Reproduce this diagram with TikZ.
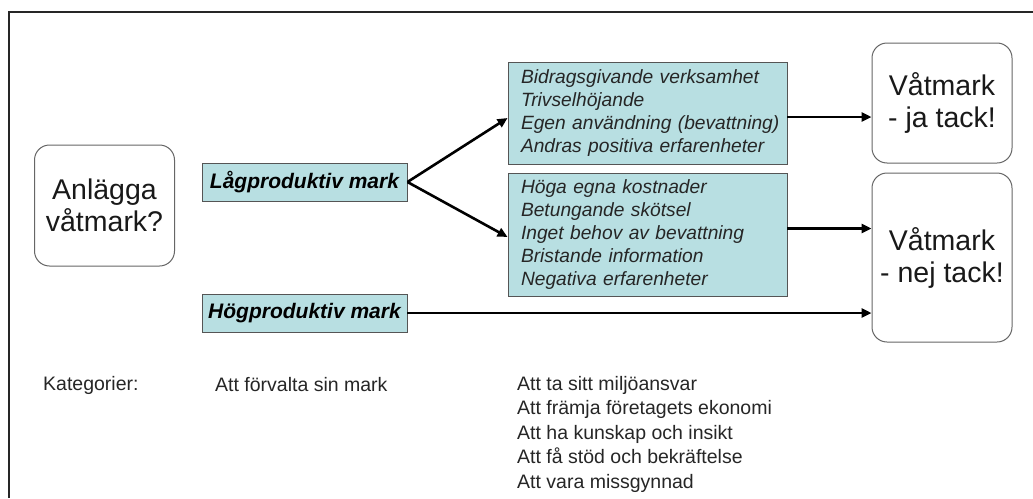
\documentclass[tikz,border=0pt]{standalone}
\usepackage{fontspec}
\setmainfont{Liberation Sans}
\usetikzlibrary{arrows.meta,calc}
\definecolor{boxteal}{HTML}{B8DFE2}
\definecolor{edgegray}{HTML}{555555}
\begin{document}
\begin{tikzpicture}[x=1pt,y=-1pt,
  choice/.style={draw=black!60, line width=1pt, rounded corners=15pt, fill=white,
    align=center, inner sep=0pt, font=\fontsize{28.5}{32}\selectfont, text=black!90},
  markbox/.style={draw=edgegray, fill=boxteal, line width=0.9pt, minimum width=205pt,
    minimum height=38pt, inner sep=0pt, font=\fontsize{21}{24}\selectfont\bfseries\itshape},
  listbox/.style={draw=edgegray, fill=boxteal, line width=0.9pt, text width=253pt,
    align=left, inner xsep=13pt, inner ysep=0pt,
    font=\fontsize{19.2}{23}\selectfont\itshape, text=black!85},
  arr/.style={line width=2.6pt, -{Triangle[length=10pt,width=9pt]}},
  note/.style={anchor=west, inner sep=0pt, align=left,
    font=\fontsize{19.5}{24.5}\selectfont, text=black!85}]
\useasboundingbox (0,0) rectangle (1033,498);
\fill[white] (0,0) rectangle (1033,498);
% frame
\draw[line width=1.6pt, black!85] (9,498) -- (9,12) -- (1033,12);
% nodes
\node[choice, minimum width=140pt, minimum height=121pt] (q) at (104.5,205.5) {Anlägga\\våtmark?};
\node[markbox] (low) at (304.5,182) {Lågproduktiv mark};
\node[markbox] (high) at (304.5,313) {Högproduktiv mark};
\node[listbox, minimum height=102pt] (up) at (647.5,113) {\mbox{Bidragsgivande verksamhet}\\\mbox{Trivselhöjande}\\\mbox{Egen användning (bevattning)}\\\mbox{Andras positiva erfarenheter}};
\node[listbox, minimum height=123pt] (dn) at (647.5,234.5) {\mbox{Höga egna kostnader}\\\mbox{Betungande skötsel}\\\mbox{Inget behov av bevattning}\\\mbox{Bristande information}\\\mbox{Negativa erfarenheter}};
\node[choice, minimum width=140pt, minimum height=120pt] (ja) at (942,103) {Våtmark\\- ja tack!};
\node[choice, minimum width=140pt, minimum height=169pt] (nej) at (942,257.5) {Våtmark\\- nej tack!};
% connectors
\draw[arr] (low.east) -- ($(up.west)+(0,5)$);
\draw[arr] (low.east) -- ($(dn.west)+(0,2.5)$);
\coordinate (a1) at ($(up.east)+(0,4)$);
\draw[arr] (a1) -- (a1 -| ja.west);
\coordinate (a2) at ($(dn.east)+(0,-6)$);
\draw[arr] (a2) -- (a2 -| nej.west);
\draw[arr] (high.east) -- (high.east -| nej.west);
% categories
\node[note] (kat) at (43,385) {Kategorier:};
\node[note] (forv) at (215,385) {Att förvalta sin mark};
\node[note] (list) at (517,434) {Att ta sitt miljöansvar\\Att främja företagets ekonomi\\Att ha kunskap och insikt\\Att få stöd och bekräftelse\\Att vara missgynnad};
\end{tikzpicture}
\end{document}
